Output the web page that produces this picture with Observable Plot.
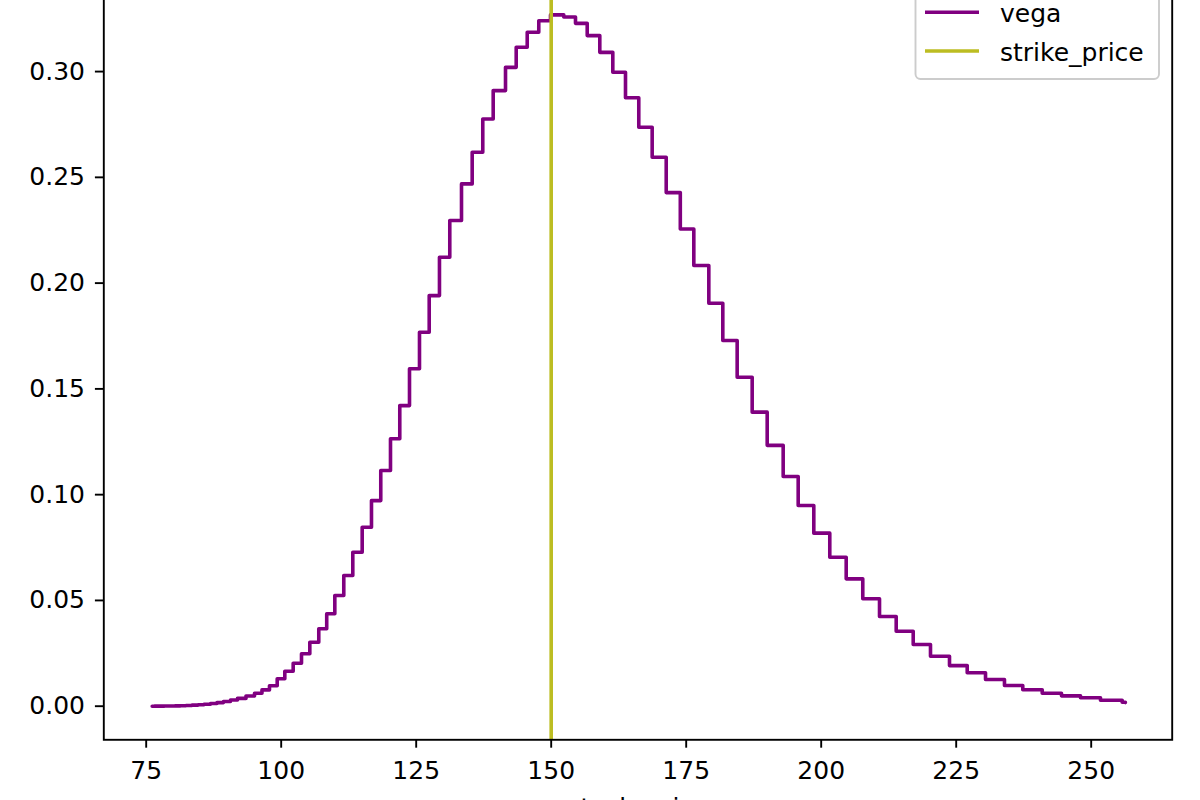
<!DOCTYPE html>
<html>
<head>
<meta charset="utf-8">
<script src="https://cdn.jsdelivr.net/npm/d3@7"></script>
<script src="https://cdn.jsdelivr.net/npm/@observablehq/plot@0.6"></script>
<style>
  html, body { margin: 0; padding: 0; background: #fff; overflow: hidden; }
  #wrap { position: relative; width: 1200px; height: 800px; overflow: hidden; background: #fff; }
  #chart { position: absolute; left: 0; top: -22px; }
  #legend { position: absolute; left: 0; top: 0; }
</style>
</head>
<body>
<div id="wrap">
  <div id="chart"></div>
  <svg id="legend" width="1200" height="800"></svg>
</div>
<script>
// x positions where each step of vega starts (stock price), last entry is the end of the line
const stockPrice = [76.11, 76.54, 77.46, 78.39, 79.31, 80.33, 81.35, 82.37, 83.48, 84.59, 85.70, 86.91, 88.11, 89.31, 90.61, 91.91, 93.48, 95.06, 96.44, 97.83, 99.26, 100.67, 102.22, 103.76, 105.30, 106.96, 108.43, 109.93, 111.59, 113.26, 115.00, 116.72, 118.44, 120.24, 121.96, 123.76, 125.61, 127.41, 129.31, 131.22, 133.39, 135.37, 137.33, 139.26, 141.54, 143.52, 145.56, 147.70, 149.87, 152.33, 154.50, 156.67, 159.00, 161.41, 163.76, 166.22, 168.70, 171.30, 173.91, 176.41, 179.19, 181.78, 184.44, 187.22, 190.00, 192.96, 195.74, 198.63, 201.59, 204.63, 207.70, 210.80, 213.89, 217.04, 220.24, 223.76, 227.04, 230.43, 233.94, 237.33, 240.93, 244.50, 248.02, 251.72, 255.74, 256.33];
const vega = [0.00001, 0.00002, 0.00004, 0.00007, 0.00011, 0.00017, 0.00025, 0.00036, 0.0005, 0.0007, 0.00095, 0.0013, 0.0017, 0.0022, 0.0029, 0.0037, 0.0048, 0.0061, 0.0077, 0.0097, 0.0130, 0.0165, 0.0203, 0.0248, 0.0302, 0.0366, 0.0437, 0.0523, 0.0618, 0.0728, 0.0846, 0.0972, 0.1114, 0.1264, 0.1421, 0.1595, 0.1768, 0.1941, 0.2122, 0.2296, 0.2469, 0.2619, 0.2776, 0.2910, 0.3020, 0.3115, 0.3186, 0.3240, 0.3268, 0.3258, 0.3228, 0.3170, 0.3091, 0.2997, 0.2876, 0.2737, 0.2595, 0.2428, 0.2256, 0.2083, 0.1905, 0.1729, 0.1555, 0.1390, 0.1233, 0.1086, 0.0949, 0.0818, 0.0704, 0.0602, 0.0508, 0.0424, 0.0354, 0.0292, 0.0236, 0.0192, 0.0158, 0.0126, 0.0098, 0.0078, 0.0061, 0.0049, 0.0040, 0.0028, 0.0019, 0.0017];
const strikePrice = [150];
const xTicks = [75, 100, 125, 150, 175, 200, 225, 250];
const yTicks = [0.00, 0.05, 0.10, 0.15, 0.20, 0.25, 0.30];
const seriesNames = ["vega", "strike_price"];
const seriesColors = ["#800080", "#bcbd22"];
const xLabel = "stock_price";

const data = stockPrice.map((x, i) => ({stock_price: x, vega: vega[i]}));

const FONT = "'DejaVu Sans', 'Liberation Sans', sans-serif";
const FS = 25;

const chart = Plot.plot({
  width: 1200,
  height: 861.3,
  marginLeft: 103.3,
  marginRight: 28.3,
  marginTop: 0,
  marginBottom: 100,
  style: {fontFamily: FONT, fontSize: FS + "px", color: "#000", background: "transparent", overflow: "visible"},
  x: {domain: [67.15, 265.0]},
  y: {domain: [-0.01588, 0.3440]},
  marks: [
    Plot.line(data, {x: "stock_price", y: "vega", curve: "step-after", stroke: seriesColors[0], strokeWidth: 3.6, strokeLinejoin: "round"}),
    Plot.ruleX(strikePrice, {stroke: seriesColors[1], strokeWidth: 3.6}),
    Plot.frame({stroke: "#000", strokeWidth: 1.9}),
    Plot.axisX({ticks: xTicks, tickSize: 8.4, tickPadding: 13, tickFormat: d => String(d), fontSize: FS, strokeWidth: 1.9, label: null}),
    Plot.axisY({ticks: yTicks, tickSize: 8.4, tickPadding: 10.4, tickFormat: d3.format(".2f"), fontSize: FS, strokeWidth: 1.9, label: null}),
    Plot.text([xLabel], {frameAnchor: "bottom", dy: 76.7, fontSize: FS, fill: "#000"})
  ]
});
document.getElementById("chart").appendChild(chart);

// legend (top-right, matplotlib style)
const lg = d3.select("#legend");
lg.append("rect")
  .attr("x", 915.5).attr("y", -30).attr("width", 243.5).attr("height", 109)
  .attr("rx", 5).attr("fill", "#fff").attr("fill-opacity", 0.8)
  .attr("stroke", "#cccccc").attr("stroke-width", 1.9);
const rowsY = [12.3, 51];
seriesNames.forEach((name, i) => {
  lg.append("line")
    .attr("x1", 925).attr("x2", 979).attr("y1", rowsY[i]).attr("y2", rowsY[i])
    .attr("stroke", seriesColors[i]).attr("stroke-width", 3.6);
  lg.append("text")
    .attr("x", 1000).attr("y", rowsY[i] + 9.5)
    .attr("font-family", FONT).attr("font-size", FS).attr("fill", "#000")
    .text(name);
});
</script>
</body>
</html>
